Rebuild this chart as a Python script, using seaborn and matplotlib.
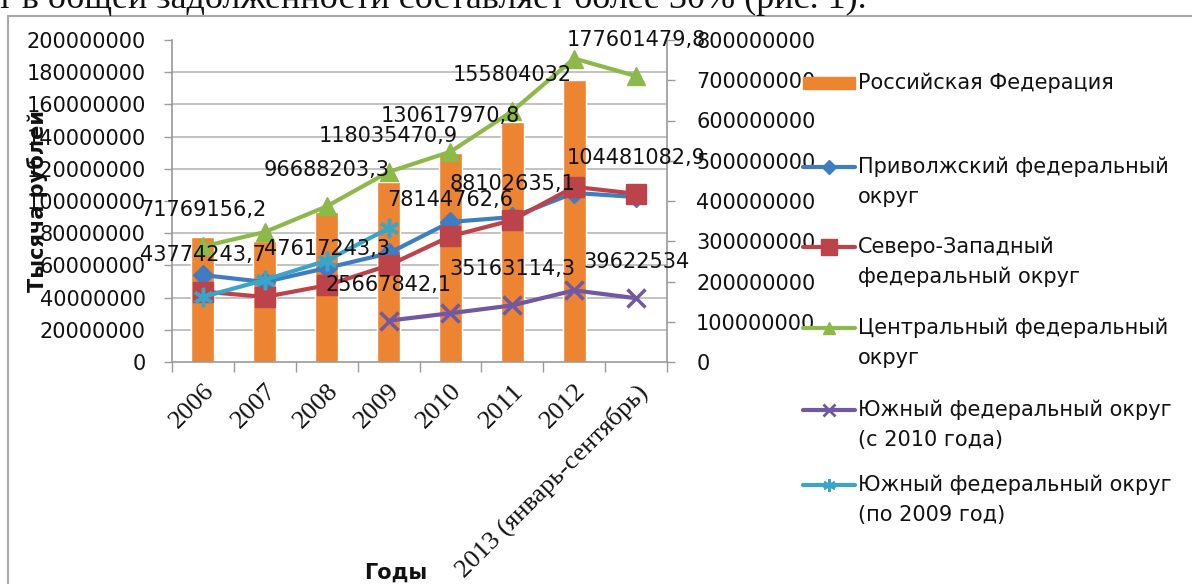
import numpy as np
import pandas as pd
import matplotlib
matplotlib.use("Agg")
import matplotlib.pyplot as plt
from matplotlib.lines import Line2D
from matplotlib.patches import Rectangle
from matplotlib.ticker import MultipleLocator, FixedLocator
import seaborn as sns

# ---- data -------------------------------------------------------------
years = ["2006", "2007", "2008", "2009", "2010", "2011", "2012",
         "2013 (январь-сентябрь)"]

russia_total = [310e6, 300e6, 373e6, 447e6, 520e6, 596e6, 700e6, np.nan]
privolzhsky = [54.0e6, 49.7e6, 58.4e6, 67.5e6, 87.0e6, 90.0e6, 105.0e6, 102.5e6]
severo_zapadny = [43774243.7, 40.4e6, 47617243.3, 60.0e6, 78144762.6,
                  88102635.1, 108.8e6, 104481082.9]
centralny = [71769156.2, 80.7e6, 96688203.3, 118035470.9, 130617970.8,
             155804032.0, 188.5e6, 177601479.8]
yuzhny_new = [np.nan, np.nan, np.nan, 25667842.1, 30.3e6, 35163114.3,
              44.5e6, 39622534.0]
yuzhny_old = [40.4e6, 51.0e6, 63.0e6, 83.0e6, np.nan, np.nan, np.nan, np.nan]

# which points carry a value label (indices into years)
labels_centralny = [0, 2, 3, 4, 5, 7]
labels_severo_zapadny = [0, 2, 4, 5, 7]
labels_yuzhny_new = [3, 5, 7]

bar_name = "Российская Федерация"
line_names = ["Приволжский федеральный\nокруг",
              "Северо-Западный\nфедеральный округ",
              "Центральный федеральный\nокруг",
              "Южный федеральный округ\n(с 2010 года)",
              "Южный федеральный округ\n(по 2009 год)"]

left_max, left_step = 200e6, 20e6
right_max, right_step = 800e6, 100e6

# ---- styling ----------------------------------------------------------
sns.set_theme(style="white")
plt.rcParams["font.family"] = ["DejaVu Sans"]
SERIF = ["Liberation Serif", "DejaVu Serif"]

ORANGE = "#EC8432"
BLUE = "#3F7CC2"
RED = "#BC4349"
GREEN = "#8DB84A"
PURPLE = "#7158A3"
CYAN = "#3AA5C8"
GRID = "#B8B8B8"
AXIS = "#9A9A9A"
FS = 15

W, H = 1192, 584
fig = plt.figure(figsize=(W / 100, H / 100), dpi=100)
fig.patch.set_facecolor("white")


def fx(px):
    return px / W


def fy(py):
    return 1 - py / H


# document text line above the figure frame (cut by the page edge)
fig.text(fx(-3), fy(8), "т в общей задолженности составляет более 30% (рис. 1).",
         family=SERIF, fontsize=26, color="#111111", va="baseline", ha="left")

# chart frame
fig.add_artist(Rectangle((fx(8), fy(600)), fx(1200) - fx(8), fy(16) - fy(600),
                         transform=fig.transFigure, fill=False,
                         edgecolor="#A8A8A8", lw=1.5))

# ---- axes -------------------------------------------------------------
ax_bars = fig.add_axes([fx(172), fy(362), fx(667) - fx(172), fy(40) - fy(362)])
ax_lines = ax_bars.twinx()

pos = np.arange(len(years))
df_bar = pd.DataFrame({"pos": pos, "value": russia_total})
sns.barplot(data=df_bar, x="pos", y="value", order=list(pos), color=ORANGE,
            saturation=1, width=0.37, errorbar=None, ax=ax_bars, zorder=2)

series = [
    (privolzhsky, BLUE, "D", 10, None),
    (severo_zapadny, RED, "s", 14, labels_severo_zapadny),
    (centralny, GREEN, "^", 13, labels_centralny),
    (yuzhny_new, PURPLE, "x", 13, labels_yuzhny_new),
    (yuzhny_old, CYAN, (6, 2, 0), 14, None),
]


def fmt_value(v):
    if float(v).is_integer():
        return str(int(v))
    return f"{v:.1f}".replace(".", ",")


for z, (vals, col, mk, ms, lab_idx) in enumerate(series):
    d = pd.DataFrame({"pos": pos, "value": vals})
    sns.lineplot(data=d, x="pos", y="value", ax=ax_lines, color=col,
                 lw=3.0, marker=mk, markersize=ms, markeredgecolor=col,
                 markerfacecolor=col, markeredgewidth=2.5 if mk in ("x", (6, 2, 0)) else 1,
                 zorder=3 + z, errorbar=None, sort=False)
    if lab_idx:
        for i in lab_idx:
            ax_lines.annotate(fmt_value(vals[i]), (pos[i], vals[i]),
                              xytext=(0, 26), textcoords="offset points",
                              ha="center", va="center", fontsize=FS,
                              color="#111111", zorder=20)

# ---- scales & ticks ---------------------------------------------------
ax_bars.set_xlim(-0.5, len(years) - 0.5)
ax_bars.set_ylim(0, right_max)
ax_lines.set_ylim(0, left_max)

ax_bars.set_xticks(pos)
ax_bars.set_xticklabels(years, rotation=45, ha="right", rotation_mode="anchor",
                        family=SERIF, fontsize=19, color="#111111")
ax_bars.xaxis.set_minor_locator(FixedLocator(np.arange(-0.5, len(years), 1.0)))
ax_bars.tick_params(axis="x", which="major", length=0, pad=13)
ax_bars.tick_params(axis="x", which="minor", length=7, width=1, color=AXIS,
                    direction="out", bottom=True)

# right axis: bars
ax_bars.yaxis.tick_right()
ax_bars.yaxis.set_major_locator(MultipleLocator(right_step))
ax_bars.yaxis.set_major_formatter(lambda v, p: f"{int(round(v))}")
ax_bars.tick_params(axis="y", which="major", right=True, left=False,
                    length=6, width=1, color=AXIS, direction="out",
                    pad=15, labelsize=FS, labelcolor="#111111")
# horizontal grid follows the left-hand scale
ax_bars.yaxis.set_minor_locator(MultipleLocator(right_max * left_step / left_max))
ax_bars.tick_params(axis="y", which="minor", length=0)
ax_bars.grid(False)
ax_bars.grid(True, axis="y", which="minor", color=GRID, lw=1.2)
ax_bars.set_axisbelow(True)
ax_bars.set_ylabel("")

# left axis: lines
ax_lines.yaxis.tick_left()
ax_lines.yaxis.set_label_position("left")
ax_lines.yaxis.set_major_locator(MultipleLocator(left_step))
ax_lines.yaxis.set_major_formatter(lambda v, p: f"{int(round(v))}")
ax_lines.tick_params(axis="y", which="major", left=True, right=False,
                     length=6, width=1, color=AXIS, direction="out",
                     pad=13, labelsize=FS, labelcolor="#111111")
ax_lines.set_ylabel("Тысяча рублей", fontsize=15, fontweight="bold",
                    color="#111111")
ax_lines.yaxis.set_label_coords(-0.25, 0.5)
ax_lines.set_xlabel("")

for a in (ax_bars, ax_lines):
    for s in a.spines.values():
        s.set_visible(False)
for side in ("left", "right", "bottom"):
    ax_bars.spines[side].set_visible(True)
    ax_bars.spines[side].set_color(AXIS)
    ax_bars.spines[side].set_linewidth(1.2)

ax_bars.set_xlabel("Годы", fontsize=15, fontweight="bold", color="#111111")
ax_bars.xaxis.set_label_coords((396 - 172) / 495, (362 - 563) / 322)

# ---- legend -----------------------------------------------------------
leg_first = [83, 167, 247, 328, 410, 485]
line_gap = 30
x_h0, x_h1, x_txt = 803, 855, 858
xm = (x_h0 + x_h1) / 2

fig.add_artist(Rectangle((fx(x_h0), fy(89)), fx(x_h1) - fx(x_h0), fy(77) - fy(89),
                         transform=fig.transFigure, color=ORANGE, zorder=5))
fig.text(fx(x_txt), fy(leg_first[0]), bar_name, fontsize=FS, va="center",
         ha="left", color="#111111")

leg_ms = [7, 11, 9, 8, 9]
for (vals, col, mk, ms, _), name, y0, lms in zip(series, line_names, leg_first[1:], leg_ms):
    fig.add_artist(Line2D([fx(x_h0), fx(x_h1)], [fy(y0), fy(y0)],
                          transform=fig.transFigure, color=col, lw=3, zorder=5))
    fig.add_artist(Line2D([fx(xm)], [fy(y0)], transform=fig.transFigure,
                          marker=mk, markersize=lms, color=col,
                          markeredgewidth=2 if mk in ("x", (6, 2, 0)) else 1,
                          zorder=6))
    for k, part in enumerate(name.split("\n")):
        fig.text(fx(x_txt), fy(y0 + k * line_gap), part, fontsize=FS,
                 va="center", ha="left", color="#111111")

fig.savefig("out.png", dpi=100)
